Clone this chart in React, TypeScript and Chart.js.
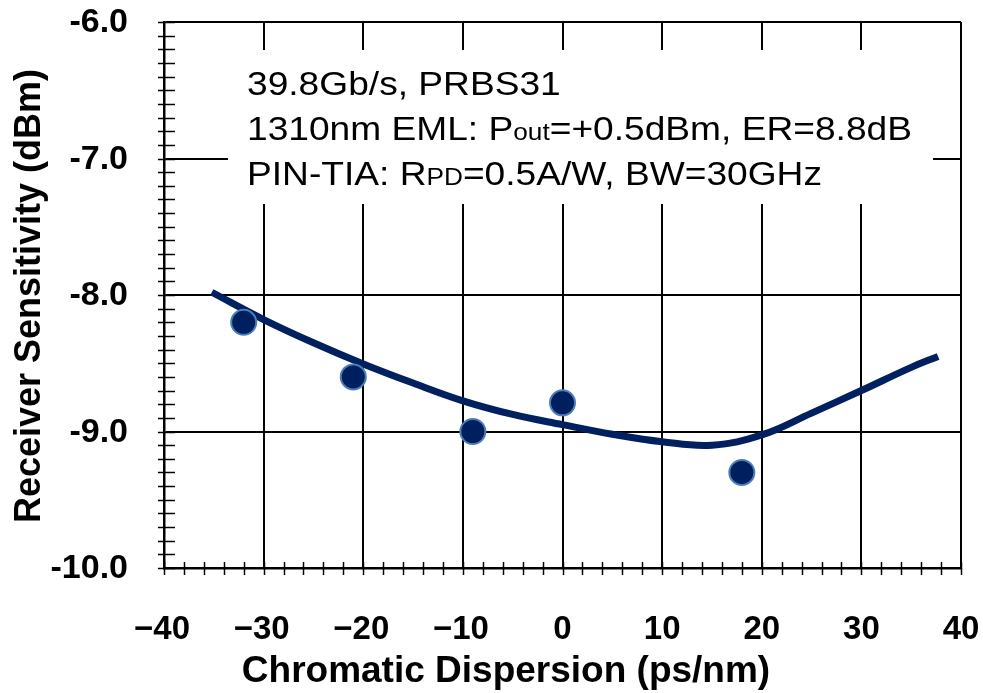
import React, { useEffect, useRef } from "react";
import { Chart, registerables } from "chart.js";

Chart.register(...registerables);

// ---- data ----
const measuredX = [-32, -21, -9, 0, 18];
const measuredY = [-8.2, -8.6, -9.0, -8.79, -9.3];

const fitX = [-35.2, -30, -25, -20, -15, -10, -5, 0, 5, 10, 15, 20, 25, 30, 35, 37.7];
const fitY = [-7.98, -8.18, -8.35, -8.505, -8.645, -8.775, -8.875, -8.95, -9.02, -9.075, -9.1, -9.025, -8.865, -8.7, -8.53, -8.45];

const xTicks = [-40, -30, -20, -10, 0, 10, 20, 30, 40];
const yTicks = [-10, -9, -8, -7, -6];

const yTitle = "Receiver Sensitivity (dBm)";
const xTitle = "Chromatic Dispersion (ps/nm)";

const noteLines = [
  [{ t: "39.8Gb/s, PRBS31", sub: false }],
  [
    { t: "1310nm EML: P", sub: false },
    { t: "out", sub: true },
    { t: "=+0.5dBm, ER=8.8dB", sub: false },
  ],
  [
    { t: "PIN-TIA: R", sub: false },
    { t: "PD", sub: true },
    { t: "=0.5A/W, BW=30GHz", sub: false },
  ],
];

const FONT = '"Liberation Sans", Arial, Helvetica, sans-serif';

const fmtX = (v: number) => (v < 0 ? "\u2212" + Math.abs(v) : String(v));
const fmtY = (v: number) => v.toFixed(1);

const decorPlugin = {
  id: "decor",
  beforeDatasetsDraw(chart: any) {
    const ctx = chart.ctx;
    ctx.save();
    // annotation box (white, covers grid)
    ctx.fillStyle = "#ffffff";
    ctx.fillRect(228, 50, 705, 154);
    // annotation text
    const mainSize = 34;
    const subSize = 24;
    const widthOf = (segs: any[]) => {
      let w = 0;
      segs.forEach((s) => {
        ctx.font = `${s.sub ? subSize : mainSize}px ${FONT}`;
        w += ctx.measureText(s.t).width;
      });
      return w;
    };
    const sx = 665 / widthOf(noteLines[1]);
    const baselines = [95, 140, 185];
    ctx.fillStyle = "#000";
    ctx.textBaseline = "alphabetic";
    ctx.textAlign = "left";
    noteLines.forEach((segs, i) => {
      ctx.save();
      ctx.translate(247, baselines[i]);
      ctx.scale(sx, 1);
      let cx = 0;
      segs.forEach((s) => {
        ctx.font = `${s.sub ? subSize : mainSize}px ${FONT}`;
        ctx.fillText(s.t, cx, 0);
        cx += ctx.measureText(s.t).width;
      });
      ctx.restore();
    });
    ctx.restore();
  },
  afterDraw(chart: any) {
    const ctx = chart.ctx;
    const xs = chart.scales.x;
    const ys = chart.scales.y;
    ctx.save();
    ctx.strokeStyle = "#000";
    ctx.lineWidth = 1.5;
    // y minor ticks every 0.1
    for (let i = 0; i <= 40; i++) {
      const py = Math.round(ys.getPixelForValue(-10 + i / 10)) + 0.5;
      ctx.beginPath();
      ctx.moveTo(xs.left - 6, py);
      ctx.lineTo(xs.left + 11, py);
      ctx.stroke();
    }
    // x minor ticks every 2
    for (let i = 0; i <= 40; i++) {
      const px = Math.round(xs.getPixelForValue(-40 + i * 2)) + 0.5;
      ctx.beginPath();
      ctx.moveTo(px, ys.bottom - 6);
      ctx.lineTo(px, ys.bottom + 7);
      ctx.stroke();
    }
    ctx.fillStyle = "#000";
    // tick labels
    ctx.font = `bold 34px ${FONT}`;
    ctx.textAlign = "right";
    ctx.textBaseline = "middle";
    yTicks.forEach((v) => {
      ctx.fillText(fmtY(v), 128, ys.getPixelForValue(v) + 1);
    });
    ctx.font = `bold 33px ${FONT}`;
    ctx.textAlign = "center";
    xTicks.forEach((v) => {
      ctx.fillText(fmtX(v), xs.getPixelForValue(v) - (v < 0 ? 2 : 0), 630);
    });
    // axis titles
    ctx.font = `bold 37px ${FONT}`;
    ctx.textAlign = "center";
    ctx.textBaseline = "middle";
    ctx.fillText(xTitle, 506, 672);
    ctx.font = `bold 36px ${FONT}`;
    ctx.save();
    ctx.translate(30, 296);
    ctx.rotate(-Math.PI / 2);
    ctx.fillText(yTitle, 0, 0);
    ctx.restore();
    ctx.restore();
  },
};

export default function App() {
  const ref = useRef<HTMLCanvasElement | null>(null);
  useEffect(() => {
    if (!ref.current) return;
    const chart = new Chart(ref.current, {
      type: "scatter",
      data: {
        datasets: [
          {
            type: "line",
            label: "fit",
            data: fitX.map((x, i) => ({ x, y: fitY[i] })),
            borderColor: "#002060",
            borderWidth: 7,
            pointRadius: 0,
            tension: 0.4,
            fill: false,
            order: 2,
          } as any,
          {
            type: "scatter",
            label: "measured",
            data: measuredX.map((x, i) => ({ x, y: measuredY[i] })),
            backgroundColor: "#001f5f",
            borderColor: "#4a7ebb",
            borderWidth: 2,
            pointRadius: 12.5,
            order: 1,
          },
        ],
      },
      options: {
        responsive: false,
        animation: false,
        layout: { padding: { left: 0, right: 22, top: 22, bottom: 0 } },
        plugins: { legend: { display: false }, tooltip: { enabled: false } },
        scales: {
          x: {
            type: "linear",
            min: -40,
            max: 40,
            afterBuildTicks: (s: any) => {
              s.ticks = xTicks.map((v) => ({ value: v }));
            },
            afterFit: (s: any) => {
              s.height = 125;
            },
            ticks: { display: false },
            grid: { color: "#000", lineWidth: 2, drawTicks: false },
            border: { display: true, color: "#000", width: 2.5 },
          },
          y: {
            type: "linear",
            min: -10,
            max: -6,
            afterBuildTicks: (s: any) => {
              s.ticks = yTicks.map((v) => ({ value: v }));
            },
            afterFit: (s: any) => {
              s.width = 164;
            },
            ticks: { display: false },
            grid: { color: "#000", lineWidth: 2, drawTicks: false },
            border: { display: true, color: "#000", width: 2.5 },
          },
        },
      },
      plugins: [decorPlugin],
    });
    return () => chart.destroy();
  }, []);
  return (
    <div style={{ position: "fixed", left: 0, top: 0, width: 983, height: 693, background: "#fff" }}>
      <canvas ref={ref} width={983} height={693} />
    </div>
  );
}
